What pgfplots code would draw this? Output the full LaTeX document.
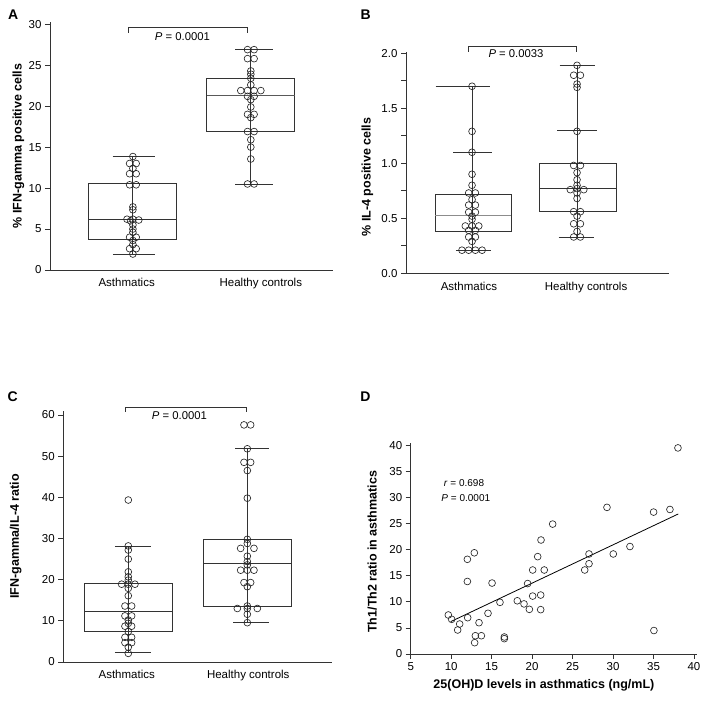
\documentclass[border=0pt]{standalone}
\usepackage{fontspec}
\setmainfont{Liberation Sans}
\usepackage{pgfplots}
\pgfplotsset{compat=1.18}

\pgfplotsset{
  panel/.style={
    scale only axis, clip=false,
    axis x line=bottom, axis y line=left,
    axis line style={-, line width=0.8pt, black!80},
    tick align=outside, major tick length=5pt,
    tick style={black!80, line width=0.8pt},
    tick label style={font=\fontsize{11.5}{13}\selectfont},
    label style={font=\bfseries\fontsize{12.5}{14}\selectfont},
    /pgf/number format/assume math mode=true,
  },
  boxpanel/.style={
    panel,
    xtick style={draw=none},
    xticklabels={Asthmatics, Healthy controls},
  },
  dots/.style={only marks, mark=o, mark size=3.4pt,
    mark options={fill=white, draw=black!85, line width=0.65pt}},
  bx/.style={draw=black!80, line width=0.8pt, solid, mark=none},
}
\newcommand{\pval}[1]{\textit{P} = #1}
% one straight piece of a box plot: x1, y1, x2, y2
\newcommand{\seg}[5][]{\addplot[bx,#1] coordinates {(#2,#3) (#4,#5)};}
% box: left, right, lower quartile, upper quartile
\newcommand{\rect}[4]{\addplot[bx] coordinates {(#1,#3) (#2,#3) (#2,#4) (#1,#4) (#1,#3)};}

\begin{document}
\begin{tikzpicture}
\useasboundingbox (0pt,0pt) rectangle (708pt,700pt);

% ---------- A ----------
\begin{axis}[boxpanel, at={(50pt,430pt)}, anchor=south west,
  width=283pt, height=248.2pt,
  xmin=0.297, xmax=2.697, ymin=0, ymax=30.3,
  xtick={0.947,2.085}, ytick={0,5,...,30},
  ylabel={\% IFN-gamma positive cells},
  ylabel style={at={(axis description cs:-0.112,0.5)}, anchor=center}]
% asthmatics: whiskers 1.93 / 13.85, quartiles 3.75 / 10.55, median 6.2
\seg{1}{1.93}{1}{13.85}
\rect{0.62}{1.373}{3.75}{10.55}
\seg{0.62}{6.2}{1.373}{6.2}
\seg{0.828}{13.85}{1.186}{13.85}
\seg{0.83}{1.93}{1.186}{1.93}
% healthy controls: whiskers 10.5 / 26.95, quartiles 16.9 / 23.45, median 21.3
\seg{2}{10.5}{2}{26.95}
\rect{1.627}{2.373}{16.9}{23.45}
\seg[draw=black!65]{1.627}{21.3}{2.373}{21.3}
\seg{1.867}{26.95}{2.186}{26.95}
\seg{1.867}{10.5}{2.186}{10.5}
\addplot[dots] coordinates {
  (1,13.85) (0.972,13.0) (1.028,13.0) (1,12.4) (0.972,11.75) (1.028,11.75)
  (0.972,10.4) (1.028,10.4) (1,7.7) (1,7.35) (0.95,6.2) (1,6.2) (1.05,6.1) (0.98,6.0)
  (1,5.5) (1,5.0) (1,4.6) (0.972,4.0) (1.028,4.0) (1,3.6) (1,3.1)
  (0.972,2.6) (1.028,2.6) (1,1.95)
  (1.972,26.9) (2.028,26.9) (1.972,25.8) (2.028,25.8) (2,24.3) (2,23.9) (2,23.4) (2,22.6)
  (1.915,21.9) (1.972,21.9) (2.028,21.9) (2.085,21.9) (1.972,21.2) (2.028,21.2) (2,20.8)
  (2,19.9) (1.972,19.0) (2.028,19.0) (2,18.6) (1.972,16.9) (2.028,16.9) (2,15.9) (2,15.0)
  (2,13.55) (1.972,10.5) (2.028,10.5)
};
\draw[black!80, line width=0.8pt] (axis cs:0.96,28.97) |- (axis cs:1.97,29.63) -- (axis cs:1.97,28.97);
\node[font=\fontsize{11.3}{13}\selectfont] at (axis cs:1.42,28.5) {\pval{0.0001}};
\end{axis}

% ---------- B ----------
\begin{axis}[boxpanel, at={(406pt,426.7pt)}, anchor=south west,
  width=263pt, height=221.7pt,
  xmin=0.371, xmax=2.876, ymin=0, ymax=2.015,
  xtick={0.97,2.086}, ytick={0,0.5,...,2.0}, minor ytick={0.25,0.75,1.25,1.75},
  minor tick length=5pt,
  yticklabel style={/pgf/number format/.cd, fixed, fixed zerofill, precision=1},
  ylabel={\% IL-4 positive cells},
  ylabel style={at={(axis description cs:-0.147,0.434)}, anchor=center}]
% asthmatics
\seg{1}{0.21}{1}{1.70}
\rect{0.648}{1.374}{0.385}{0.72}
\seg[draw=black!45]{0.648}{0.525}{1.374}{0.525}
\seg{0.654}{1.70}{1.17}{1.70}
\seg{0.82}{1.10}{1.187}{1.10}
\seg{0.845}{0.21}{1.178}{0.21}
% healthy controls
\seg{2}{0.33}{2}{1.89}
\rect{1.638}{2.371}{0.56}{1.0}
\seg{1.638}{0.77}{2.371}{0.77}
\seg{1.835}{1.89}{2.169}{1.89}
\seg{1.813}{1.30}{2.188}{1.30}
\seg{1.824}{0.33}{2.162}{0.33}
\addplot[dots] coordinates {
  (1,1.70) (1,1.29) (1,1.10) (1,0.90) (1,0.80) (0.968,0.73) (1.032,0.73) (1,0.67)
  (0.968,0.62) (1.032,0.62) (0.968,0.555) (1.032,0.555) (1,0.52) (1,0.49)
  (0.936,0.43) (1,0.43) (1.064,0.43) (0.968,0.39) (1.032,0.39) (0.968,0.33) (1.032,0.33)
  (1,0.29) (0.904,0.21) (0.968,0.21) (1.032,0.21) (1.096,0.21)
  (2,1.89) (1.968,1.80) (2.032,1.80) (2,1.72) (2,1.69) (2,1.29) (1.968,0.98) (2.032,0.98)
  (2,0.915) (2,0.85) (2,0.80) (1.936,0.76) (2,0.77) (2.064,0.76) (2,0.73) (2,0.68)
  (1.968,0.56) (2.032,0.56) (2,0.52) (1.968,0.45) (2.032,0.45) (2,0.38)
  (1.968,0.33) (2.032,0.33)
};
\draw[black!80, line width=0.8pt] (axis cs:0.965,2.015) |- (axis cs:1.993,2.06) -- (axis cs:1.993,2.015);
\node[font=\fontsize{11.3}{13}\selectfont] at (axis cs:1.419,2.0) {\pval{0.0033}};
\end{axis}

% ---------- C ----------
\begin{axis}[boxpanel, at={(63.3pt,38pt)}, anchor=south west,
  width=268.4pt, height=251.1pt,
  xmin=0.454, xmax=2.709, ymin=0, ymax=61,
  xtick={0.987,2.008}, ytick={0,10,...,60},
  ylabel={IFN-gamma/IL-4 ratio},
  ylabel style={at={(axis description cs:-0.177,0.5)}, anchor=center}]
% asthmatics
\seg{1}{2.25}{1}{28.2}
\rect{0.63}{1.37}{7.55}{19.1}
\seg{0.63}{12.4}{1.37}{12.4}
\seg{0.888}{28.2}{1.188}{28.2}
\seg{0.888}{2.25}{1.188}{2.25}
% healthy controls
\seg{2}{9.55}{2}{51.8}
\rect{1.628}{2.373}{13.4}{29.8}
\seg{1.628}{24.0}{2.373}{24.0}
\seg{1.897}{51.8}{2.185}{51.8}
\seg{1.88}{9.55}{2.185}{9.55}
\addplot[dots] coordinates {
  (1,39.35) (1,28.2) (1,27.2) (1,25.0) (1,21.9) (1,20.7) (1,19.9)
  (0.944,18.9) (1,18.9) (1.056,18.9) (1,17.9) (1,16.1) (0.972,13.6) (1.028,13.6)
  (0.972,11.2) (1.028,11.2) (1,10.2) (1,9.4) (0.972,8.7) (1.028,8.7) (1,7.4)
  (0.972,6.0) (1.028,6.0) (0.972,4.7) (1.028,4.7) (1,3.6) (1,2.1)
  (1.972,57.6) (2.028,57.6) (2,51.8) (1.972,48.5) (2.028,48.5) (2,46.5) (2,39.8)
  (2,29.8) (2,28.8) (1.944,27.6) (2.056,27.6) (2,25.7) (2,24.4) (2,23.6)
  (1.944,22.3) (2,22.3) (2.056,22.3) (1.972,19.3) (2.028,19.3) (2,18.3)
  (2,13.6) (1.916,13.0) (2,13.0) (2.084,13.0) (2,11.6) (2,9.55)
};
\draw[black!80, line width=0.8pt] (axis cs:0.972,60.8) |- (axis cs:1.995,61.87) -- (axis cs:1.995,60.8);
\node[font=\fontsize{11.3}{13}\selectfont] at (axis cs:1.43,59.75) {\pval{0.0001}};
\end{axis}

% ---------- D ----------
\begin{axis}[panel, at={(410.7pt,46pt)}, anchor=south west,
  width=286.5pt, height=211.3pt,
  xmin=5, xmax=40.4, ymin=0, ymax=40.5,
  xtick={5,10,...,40}, ytick={0,5,...,40},
  xlabel={25(OH)D levels in asthmatics (ng/mL)},
  ylabel={Th1/Th2 ratio in asthmatics},
  xlabel style={at={(axis description cs:0.465,-0.147)}, anchor=center},
  ylabel style={at={(axis description cs:-0.134,0.484)}, anchor=center}]
\addplot[black, line width=0.8pt] coordinates {(9.94,6.2) (38.06,26.84)};
\addplot[dots] coordinates {
  (9.65,7.48) (10.06,6.65) (10.8,4.6) (11.05,5.75) (12.0,18.15) (12.0,13.9) (12.04,6.96)
  (12.86,19.4) (12.9,2.17) (12.99,3.5) (13.44,6.0) (13.73,3.5) (14.55,7.8) (15.05,13.6)
  (16.03,9.9) (16.57,3.26) (16.57,2.94) (18.17,10.2) (19.0,9.6) (19.45,13.5) (19.66,8.56)
  (20.07,16.1) (20.07,11.1) (20.69,18.66) (21.06,11.3) (21.06,8.5) (21.1,21.85) (21.5,16.1)
  (22.54,24.9) (26.5,16.1) (27.03,19.17) (27.03,17.3) (29.25,28.1) (30.03,19.17)
  (32.09,20.6) (35.01,27.2) (35.05,4.5) (37.03,27.7) (38.02,39.5)
};
\node[font=\fontsize{10}{12}\selectfont] at (axis cs:11.59,32.8) {\textit{r} = 0.698};
\node[font=\fontsize{10}{12}\selectfont] at (axis cs:11.81,29.97) {\pval{0.0001}};
\end{axis}

\node[font=\bfseries\fontsize{14}{16}\selectfont] at (13.3pt,685.3pt) {A};
\node[font=\bfseries\fontsize{14}{16}\selectfont] at (365.7pt,685pt) {B};
\node[font=\bfseries\fontsize{14}{16}\selectfont] at (12.8pt,303.3pt) {C};
\node[font=\bfseries\fontsize{14}{16}\selectfont] at (365.3pt,303.3pt) {D};
\end{tikzpicture}
\end{document}
